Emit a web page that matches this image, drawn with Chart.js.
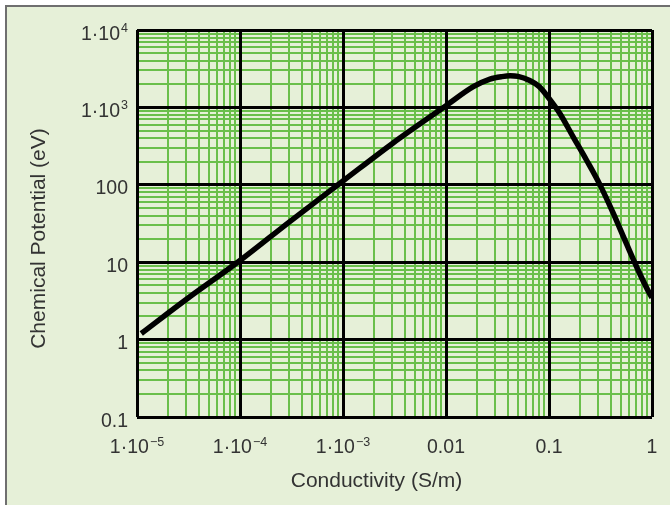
<!DOCTYPE html>
<html>
<head>
<meta charset="UTF-8" />
<script src="https://cdn.jsdelivr.net/npm/chart.js"></script>
<style>
  html, body { margin: 0; padding: 0; background: #fff; overflow: hidden; }
  #frame { position: absolute; left: 5px; top: 5px; width: 700px; height: 540px; background: #e6f0d8; border-top: 2px solid #6f6f6f; border-left: 2px solid #6f6f6f; }
  #wrap { position: absolute; left: 0; top: 0; width: 670px; height: 505px; }
</style>
</head>
<body>
<div id="frame"></div>
<div id="wrap"><canvas id="chart" width="670" height="505"></canvas></div>
<script>
// curve (S/m -> eV)
const conductivity = [1.1e-5, 3e-5, 1e-4, 3e-4, 1e-3, 3e-3, 0.01, 0.0184, 0.0267, 0.035, 0.042, 0.05, 0.065, 0.08, 0.1, 0.127, 0.171, 0.231, 0.31, 0.415, 0.562, 0.757, 0.946, 1];
const potential = [1.2, 3.3, 10.5, 33, 112, 340, 1050, 1850, 2320, 2500, 2560, 2520, 2230, 1870, 1310, 840, 419, 209, 102, 44.6, 17.6, 7.2, 3.95, 3.5];

// tick labels, "^" starts the exponent
const xTickValues = [1e-5, 1e-4, 1e-3, 0.01, 0.1, 1];
const xTickLabels = ['1·10^−5', '1·10^−4', '1·10^−3', '0.01', '0.1', '1'];
const yTickValues = [0.1, 1, 10, 100, 1e3, 1e4];
const yTickLabels = ['0.1', '1', '10', '100', '1·10^3', '1·10^4'];

const xTitle = 'Conductivity (S/m)';
const yTitle = 'Chemical Potential (eV)';

const fontFamily = "'Liberation Sans', Arial, Helvetica, sans-serif";
const textColor = '#333';
const minorColor = '#6abf4b';
const baseFont = `19.5px ${fontFamily}`;
const supFont = `12.5px ${fontFamily}`;

// 2..9 inside every decade, for the green lines
const minorsOf = decades => {
  const out = [];
  for (let i = 0; i < decades.length - 1; i++) {
    for (let k = 2; k <= 9; k++) out.push(+(k * decades[i]).toPrecision(3));
  }
  return out;
};
const xMinorTicks = minorsOf(xTickValues);
const yMinorTicks = minorsOf(yTickValues);

const setTicks = values => scale => { scale.ticks = values.map(v => ({ value: v })); };

// label with a real superscript
function drawLabel(ctx, text, x, y, align) {
  const [base, sup] = text.split('^');
  ctx.font = baseFont;
  const wb = ctx.measureText(base).width;
  let ws = 0;
  if (sup) { ctx.font = supFont; ws = ctx.measureText(sup).width + 1; }
  const x0 = align === 'center' ? x - (wb + ws) / 2 : x - (wb + ws);
  ctx.font = baseFont;
  ctx.fillText(base, x0, y);
  if (sup) {
    ctx.font = supFont;
    ctx.fillText(sup, x0 + wb + 1, y - 7.5);
  }
}

const labelsAndTitles = {
  id: 'labelsAndTitles',
  afterDraw(chart) {
    const { ctx, chartArea: a, scales } = chart;
    ctx.save();
    ctx.fillStyle = textColor;
    ctx.textAlign = 'left';
    ctx.textBaseline = 'alphabetic';
    scales.x.ticks.forEach((t, i) => {
      drawLabel(ctx, xTickLabels[i], scales.x.getPixelForTick(i), a.bottom + 36, 'center');
    });
    scales.y.ticks.forEach((t, i) => {
      drawLabel(ctx, yTickLabels[i], a.left - 9, scales.y.getPixelForTick(i) + 9.5, 'right');
    });

    ctx.font = `21px ${fontFamily}`;
    ctx.textAlign = 'center';
    ctx.fillText(xTitle, (a.left + a.right) / 2 - 18, 487);
    ctx.translate(45, (a.top + a.bottom) / 2 + 15);
    ctx.rotate(-Math.PI / 2);
    ctx.fillText(yTitle, 0, 0);
    ctx.restore();
  }
};

new Chart(document.getElementById('chart'), {
  type: 'line',
  data: {
    datasets: [{
      data: conductivity.map((x, i) => ({ x, y: potential[i] })),
      borderColor: '#000',
      borderWidth: 5.5,
      pointRadius: 0,
      fill: false,
      cubicInterpolationMode: 'monotone',
      xAxisID: 'x',
      yAxisID: 'y'
    }]
  },
  options: {
    responsive: false,
    animation: false,
    events: [],
    layout: { padding: { left: 0, top: 30, right: 18, bottom: 0 } },
    plugins: { legend: { display: false }, tooltip: { enabled: false } },
    scales: {
      xMinor: {
        type: 'logarithmic', position: 'bottom', min: 1e-5, max: 1,
        afterBuildTicks: setTicks(xMinorTicks),
        ticks: { display: false },
        grid: { color: minorColor, lineWidth: 2, drawTicks: false, z: -1 },
        border: { display: false }
      },
      yMinor: {
        type: 'logarithmic', position: 'left', min: 0.1, max: 1e4,
        afterBuildTicks: setTicks(yMinorTicks),
        ticks: { display: false },
        grid: { color: minorColor, lineWidth: 2, drawTicks: false, z: -1 },
        border: { display: false }
      },
      x: {
        type: 'logarithmic', position: 'bottom', min: 1e-5, max: 1,
        afterBuildTicks: setTicks(xTickValues),
        afterFit: s => { s.height = 88; },
        ticks: { display: false },
        grid: { color: '#000', lineWidth: 3, drawTicks: false },
        border: { display: false }
      },
      y: {
        type: 'logarithmic', position: 'left', min: 0.1, max: 1e4,
        afterBuildTicks: setTicks(yTickValues),
        afterFit: s => { s.width = 137; },
        ticks: { display: false },
        grid: { color: '#000', lineWidth: 3, drawTicks: false },
        border: { display: false }
      }
    }
  },
  plugins: [labelsAndTitles]
});
</script>
</body>
</html>
